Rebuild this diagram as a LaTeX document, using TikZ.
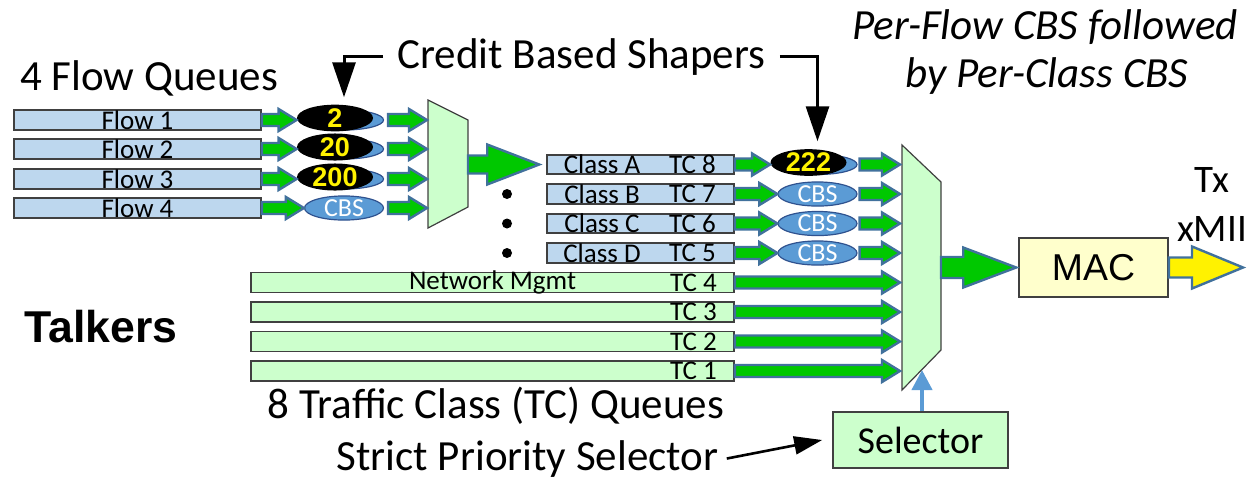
\documentclass[tikz,border=0pt]{standalone}
\usepackage{fontspec}
\setmainfont{Carlito}
\newfontfamily\arialfont{Liberation Sans}
\usetikzlibrary{shapes.geometric,arrows.meta,calc}

\definecolor{qblue}{HTML}{BDD7EE}
\definecolor{qgreen}{HTML}{CCFFCC}
\definecolor{qline}{HTML}{404040}
\definecolor{arrgreen}{HTML}{00C800}
\definecolor{arrline}{HTML}{41719C}
\definecolor{cbsblue}{HTML}{5B9BD5}
\definecolor{cbsline}{HTML}{2F528F}
\definecolor{macyellow}{HTML}{FFFFCC}

\begin{document}
\begin{tikzpicture}[x=0.5pt, y=-0.5pt,
  blk/.style n args={3}{draw=arrline, fill=arrgreen, line width=1.2pt, line join=miter,
    to path={let \p1=(\tikztostart), \p2=(\tikztotarget) in
      (\x1,\y1+#1) -- (\x2-#3,\y1+#1) -- (\x2-#3,\y1+#2) -- (\x2,\y1)
      -- (\x2-#3,\y1-#2) -- (\x2-#3,\y1-#1) -- (\x1,\y1-#1) -- cycle}},
  smallarr/.style={blk={3pt}{5.5pt}{9pt}},
  bigarr/.style={blk={4.5pt}{10pt}{26pt}},
  outarr/.style={blk={5.25pt}{10pt}{26.5pt}},
  txarr/.style={blk={5pt}{10.5pt}{25.5pt}, fill=yellow},
  boxtxt/.style={font=\fontsize{13.5}{15}\selectfont, inner sep=0pt},
  flowq/.style={draw=qline, fill=qblue, line width=0.8pt, minimum width=123.5pt,
    minimum height=10pt, boxtxt},
  classq/.style={flowq, minimum width=93.5pt, minimum height=9.75pt},
  tcq/.style={flowq, fill=qgreen, minimum width=241.5pt},
  cbs/.style={ellipse, draw=cbsline, fill=cbsblue, line width=0.6pt, minimum width=39.5pt,
    minimum height=10pt, inner sep=0pt, text=white, font=\fontsize{13}{14}\selectfont},
  hotcbs/.style={ellipse, fill=black, minimum width=38pt, minimum height=12.5pt, inner sep=0pt,
    text=yellow, font=\arialfont\bfseries\fontsize{13.5}{15}\selectfont},
  mux/.style={draw=qline, fill=qgreen, line width=0.6pt},
  bigtxt/.style={font=\fontsize{21.5}{24}\selectfont, inner sep=0pt, anchor=base},
  ptr/.style={line width=1.5pt, -{Triangle[width=11.5pt,length=17.5pt]}},
  selq/.style={draw=qline, fill=qgreen, line width=0.8pt, minimum width=87.5pt,
    minimum height=28pt, font=\fontsize{19}{22}\selectfont},
  macq/.style={draw=qline, fill=macyellow, line width=0.8pt, minimum width=74.5pt,
    minimum height=29.5pt, font=\arialfont\fontsize{18.7}{22}\selectfont},
]
\useasboundingbox (0,0) rectangle (1248,478);

% flow queues and their shapers
\foreach \i/\y in {1/120,2/149,3/179,4/208}
  \node[flowq] (f\i) at (137.5,\y) {Flow \i};
\node[cbs] (s1) at (344,120) {};
\node[cbs] (s2) at (344,149) {};
\node[cbs] (s3) at (344,179) {};
\node[cbs] (s4) at (344,208) {CBS};
\foreach \i/\n in {1/2,2/20,3/200}
  \node[hotcbs] (h\i) at ([xshift=-4.5pt,yshift=1pt]s\i.center) {\n};

% flow mux
\draw[mux] (428,100) -- (468,120) -- (468,207) -- (428,228) -- cycle;
\coordinate (m1w) at (427,164.5);
\coordinate (m1e) at (468,164.5);

% class queues
\foreach \c/\t/\y in {A/8/164.5,B/7/194,C/6/223.5,D/5/253}
  \node[classq, label={[boxtxt,xshift=-19.25pt]center:Class \c},
    label={[boxtxt,xshift=26pt]center:TC \t}] (c\c) at (640.5,\y) {};
\node[cbs] (kA) at (817.5,164.5) {};
\foreach \c/\y in {B/194,C/223.5,D/253}
  \node[cbs] (k\c) at (817.5,\y) {CBS};
\node[hotcbs] (hA) at ([xshift=-4.5pt,yshift=1pt]kA.center) {222};
\foreach \y in {194,223.5,253}
  \fill (507,\y) circle (2.5pt);

% traffic class queues
\foreach \t/\y in {4/282.5,3/312,2/341.5,1/371}
  \node[tcq, label={[boxtxt,xshift=100.5pt]center:TC \t}] (t\t) at (492.5,\y) {};
\node[boxtxt] (nm) at (t4) {Network Mgmt};

% strict priority mux, MAC, selector
\draw[mux] (902,145) -- (941,182) -- (941,350) -- (902,390) -- cycle;
\coordinate (m2w) at (900,267.5);
\coordinate (m2e) at (941,267.5);
\coordinate (m2b) at (922,370);
\node[macq] (mac) at (1093.5,267.5) {MAC};
\coordinate (txend) at (1243,267.5);
\node[selq] (sel) at (920.5,440) {Selector};

% block arrows
\foreach \i in {1,2,3}
  \draw[smallarr] (f\i.east) to (h\i.west |- f\i.east);
\draw[smallarr] (f4.east) to (s4.west);
\foreach \i in {1,...,4}
  \draw[smallarr] ([xshift=2pt]s\i.east) to (m1w |- s\i.east);
\draw[bigarr] (m1e |- cA.west) to ([xshift=-3.5pt]cA.west);
\draw[smallarr] (cA.east) to (hA.west |- cA.east);
\foreach \c in {B,C,D}
  \draw[smallarr] (c\c.east) to (k\c.west);
\foreach \c in {A,B,C,D}
  \draw[smallarr] ([xshift=1pt]k\c.east) to (m2w |- k\c.east);
\foreach \t in {4,3,2,1}
  \draw[smallarr] (t\t.east) to (m2w |- t\t.east);
\draw[outarr] (m2e) to ([xshift=-1pt]mac.west);
\draw[txarr] (mac.east) to (txend);
\draw[line width=2pt, draw=cbsblue, -{Triangle[width=10pt,length=10pt]}] (sel.north -| m2b) -- (m2b);

% texts
\node[bigtxt] (fq) at (149,90) {4 Flow Queues};
\node[bigtxt] (shp) at (581.5,68) {Credit Based Shapers};
\node[bigtxt, font=\itshape\fontsize{21.5}{24}\selectfont] (pf1) at (1045,39) {Per-Flow CBS followed};
\node[bigtxt, font=\itshape\fontsize{21.5}{24}\selectfont] (pf2) at (1047,87) {by Per-Class CBS};
\node[bigtxt, font=\arialfont\bfseries\fontsize{22.3}{26}\selectfont] (tlk) at (101,342) {Talkers};
\node[bigtxt] (tcqs) at (496,418) {8 Traffic Class (TC) Queues};
\node[bigtxt] (sps) at (527.5,470) {Strict Priority Selector};
\node[inner sep=0pt, font=\fontsize{19.5}{22}\selectfont] (tx) at (1212,180) {Tx};
\node[inner sep=0pt, font=\fontsize{19.5}{22}\selectfont] (xmii) at (1212,228.5) {xMII};

% pointers
\draw[ptr, shorten >=3.5pt] ([xshift=-7pt]shp.west) -| (s1 |- h1.north);
\draw[ptr, shorten >=3.75pt] ([xshift=7pt]shp.east) -| (kA |- hA.north);
\draw[line width=1.3pt, -{Triangle[width=9pt,length=14pt]}] ([xshift=4pt]sps.east) -- ([xshift=-5pt]sel.west);
\end{tikzpicture}
\end{document}
